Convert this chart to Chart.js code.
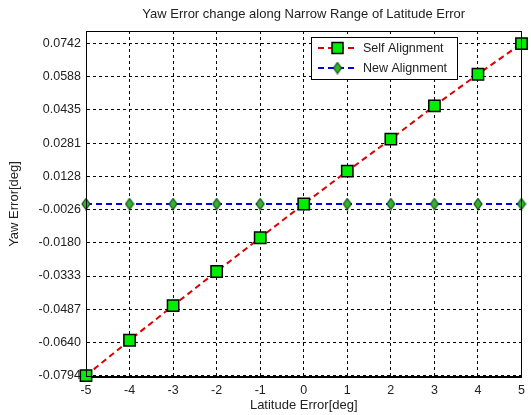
<!DOCTYPE html>
<html>
<head>
<meta charset="utf-8">
<script src="https://cdn.jsdelivr.net/npm/chart.js@4"></script>
<style>
  html, body { margin: 0; padding: 0; background: #ffffff; }
  #wrap { width: 531px; height: 415px; }
</style>
</head>
<body>
<div id="wrap"><canvas id="c" width="531" height="415"></canvas></div>
<script>
// Latitude error (deg)
const latitudeError = [-5, -4, -3, -2, -1, 0, 1, 2, 3, 4, 5];
// Yaw error (deg) for each alignment method
const selfAlignment = [-0.0794, -0.0630, -0.0470, -0.0312, -0.0156, 0.0, 0.0152, 0.0300, 0.0454, 0.0600, 0.0742];
const newAlignment  = [0, 0, 0, 0, 0, 0, 0, 0, 0, 0, 0];
// Y axis tick values
const yTickValues = [-0.0794, -0.0640, -0.0487, -0.0333, -0.0180, -0.0026, 0.0128, 0.0281, 0.0435, 0.0588, 0.0742];

const FONT = 'Liberation Sans, Arial, sans-serif';

// tall diamond marker
function makeDiamond() {
  const c = document.createElement('canvas');
  c.width = 10; c.height = 13;
  const g = c.getContext('2d');
  g.beginPath();
  g.moveTo(5, 1); g.lineTo(9, 6.5); g.lineTo(5, 12); g.lineTo(1, 6.5); g.closePath();
  g.fillStyle = '#33b233'; g.fill();
  g.lineWidth = 1.2; g.strokeStyle = '#0f4f0f'; g.stroke();
  return c;
}
const diamond = makeDiamond();

const toPts = (xs, ys) => xs.map((x, i) => ({ x: x, y: ys[i] }));

// plot frame and legend box
const framePlugin = {
  id: 'frame',
  afterDatasetsDraw(chart) {
    const { ctx, chartArea: a } = chart;
    ctx.save();
    ctx.strokeStyle = '#000';
    ctx.lineWidth = 1;
    ctx.strokeRect(Math.round(a.left) + 0.5, Math.round(a.top) + 0.5, Math.round(a.right - a.left) - 1, Math.round(a.bottom - a.top) - 1);

    // legend
    const bx = 311, by = 37, bw = 146, bh = 42;
    ctx.fillStyle = '#fff';
    ctx.fillRect(bx, by, bw, bh);
    ctx.strokeStyle = '#000';
    ctx.strokeRect(bx + 0.5, by + 0.5, bw, bh);
    const ds = chart.data.datasets;
    const rows = [48, 68];
    ds.forEach((d, i) => {
      const y = rows[i];
      ctx.beginPath();
      ctx.setLineDash(d.borderDash);
      ctx.strokeStyle = d.borderColor;
      ctx.lineWidth = d.borderWidth;
      ctx.moveTo(318, y); ctx.lineTo(357, y);
      ctx.stroke();
      ctx.setLineDash([]);
      if (d.pointStyle === 'rect') {
        ctx.fillStyle = d.pointBackgroundColor;
        ctx.fillRect(332, y - 5.5, 11, 11);
        ctx.lineWidth = d.pointBorderWidth;
        ctx.strokeStyle = d.pointBorderColor;
        ctx.strokeRect(332, y - 5.5, 11, 11);
      } else {
        ctx.drawImage(d.pointStyle, 337.5 - diamond.width / 2, y - diamond.height / 2);
      }
      ctx.fillStyle = '#222';
      ctx.font = '12.5px ' + FONT;
      ctx.textBaseline = 'middle';
      ctx.textAlign = 'left';
      ctx.fillText(d.label, 363, y + 1);
    });
    ctx.restore();
  }
};

new Chart(document.getElementById('c'), {
  type: 'line',
  data: {
    datasets: [
      {
        label: 'Self Alignment',
        data: toPts(latitudeError, selfAlignment),
        borderColor: '#dd0000',
        borderWidth: 2,
        borderDash: [6, 4],
        pointStyle: 'rect',
        pointRadius: 8,
        pointBackgroundColor: '#00ee00',
        pointBorderColor: '#000000',
        pointBorderWidth: 1.5,
        tension: 0,
        order: 1
      },
      {
        label: 'New Alignment',
        data: toPts(latitudeError, newAlignment),
        borderColor: '#0000ee',
        borderWidth: 2,
        borderDash: [6, 4],
        pointStyle: diamond,
        pointRadius: 6,
        tension: 0,
        order: 2
      }
    ]
  },
  options: {
    responsive: false,
    animation: false,
    clip: false,
    layout: { padding: { left: 0, right: 6, top: 0, bottom: 0 } },
    plugins: {
      legend: { display: false },
      tooltip: { enabled: false },
      title: {
        display: true,
        fullSize: false,
        text: 'Yaw Error change along Narrow Range of Latitude Error',
        color: '#222',
        font: { family: FONT, size: 13, weight: 'normal' },
        padding: { top: 7, bottom: 8.4 }
      }
    },
    scales: {
      x: {
        type: 'linear',
        min: -5,
        max: 5,
        afterFit(s) { s.height = 38; },
        ticks: {
          stepSize: 1,
          padding: 6,
          color: '#222',
          font: { family: FONT, size: 12.5 }
        },
        grid: { color: '#000', lineWidth: 1, drawTicks: false },
        border: { display: true, color: '#000', width: 1, dash: [3, 3] },
        title: {
          display: true,
          text: 'Latitude Error[deg]',
          color: '#222',
          font: { family: FONT, size: 13 },
          padding: { top: 0, bottom: 1.5 }
        }
      },
      y: {
        type: 'linear',
        min: -0.08,
        max: 0.08,
        afterFit(s) { s.width = 86; },
        afterBuildTicks(s) { s.ticks = yTickValues.map(v => ({ value: v })); },
        ticks: {
          padding: 5,
          color: '#222',
          font: { family: FONT, size: 12.5 },
          callback: v => v.toFixed(4)
        },
        grid: { color: '#000', lineWidth: 1, drawTicks: false },
        border: { display: true, color: '#000', width: 1, dash: [3, 3] },
        title: {
          display: true,
          text: 'Yaw Error[deg]',
          color: '#222',
          font: { family: FONT, size: 13 },
          padding: { top: 7, bottom: 0 }
        }
      }
    }
  },
  plugins: [framePlugin]
});
</script>
</body>
</html>
